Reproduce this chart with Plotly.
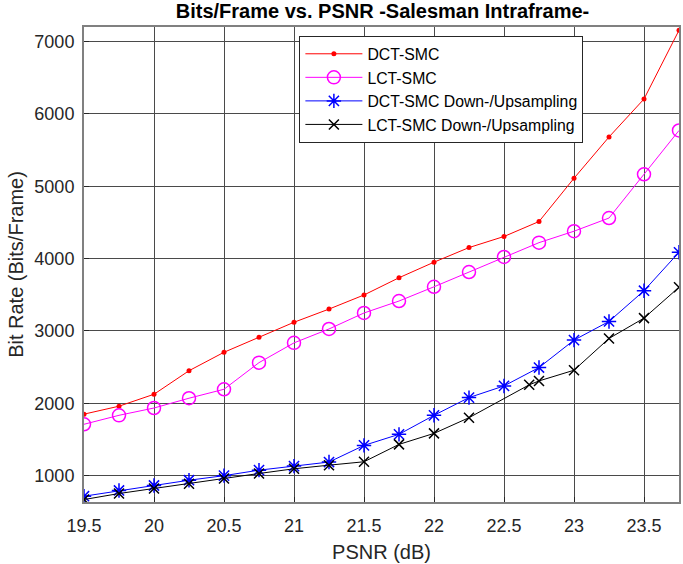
import plotly.graph_objects as go

# PSNR sample points (dB)
psnr = [19.5, 19.75, 20.0, 20.25, 20.5, 20.75, 21.0, 21.25, 21.5,
        21.75, 22.0, 22.25, 22.5, 22.75, 23.0, 23.25, 23.5, 23.75]
psnr_lct_ds = [19.5, 19.75, 20.0, 20.25, 20.5, 20.75, 21.0, 21.25, 21.5,
               21.75, 22.0, 22.25, 22.68, 22.75, 23.0, 23.25, 23.5, 23.75]

# Bit rate (bits/frame) per codec
dct_smc = [1850, 1960, 2125, 2450, 2705, 2912, 3120, 3302, 3497,
           3735, 3950, 4152, 4305, 4512, 5110, 5680, 6205, 7155]
lct_smc = [1710, 1834, 1935, 2070, 2194, 2562, 2835, 3027, 3248,
           3413, 3610, 3814, 4022, 4220, 4378, 4560, 5165, 5770]
dct_smc_ds = [716, 795, 864, 937, 1000, 1076, 1132, 1188, 1418,
              1571, 1834, 2079, 2240, 2494, 2873, 3131, 3556, 4087]
lct_smc_ds = [670, 753, 823, 887, 961, 1030, 1095, 1145, 1192,
              1432, 1584, 1801, 2255, 2309, 2457, 2896, 3177, 3603]

x_ticks = [19.5, 20, 20.5, 21, 21.5, 22, 22.5, 23, 23.5]
y_ticks = [1000, 2000, 3000, 4000, 5000, 6000, 7000]

FONT = "Liberation Sans, Arial, sans-serif"
MARGIN_L, MARGIN_R = 84, 2
WIDTH = 683

fig = go.Figure()
fig.add_trace(go.Scatter(
    x=psnr, y=dct_smc, name="DCT-SMC", mode="lines+markers",
    line=dict(color="#ff0000", width=1),
    marker=dict(symbol="circle", size=5, color="#ff0000")))
fig.add_trace(go.Scatter(
    x=psnr, y=lct_smc, name="LCT-SMC", mode="lines+markers",
    line=dict(color="#ff00ff", width=1),
    marker=dict(symbol="circle-open", size=13, color="#ff00ff",
                line=dict(width=1.5, color="#ff00ff"))))
fig.add_trace(go.Scatter(
    x=psnr, y=dct_smc_ds, name="DCT-SMC Down-/Upsampling", mode="lines+markers",
    line=dict(color="#0000ff", width=1),
    marker=dict(symbol="asterisk-open", size=12, color="#0000ff",
                line=dict(width=1.5, color="#0000ff"))))
fig.add_trace(go.Scatter(
    x=psnr_lct_ds, y=lct_smc_ds, name="LCT-SMC Down-/Upsampling", mode="lines+markers",
    line=dict(color="#000000", width=1),
    marker=dict(symbol="x-thin-open", size=10, color="#000000",
                line=dict(width=1.5, color="#000000"))))

axis_common = dict(
    showgrid=True, gridcolor="#4a4a4a", gridwidth=1,
    showline=True, linecolor="#808080", linewidth=2, mirror=True,
    ticks="inside", ticklen=5, tickcolor="#262626",
    tickfont=dict(family=FONT, size=18, color="#262626"),
    zeroline=False,
)

# title centred over the plotting area
title_x = (MARGIN_L + (WIDTH - MARGIN_L - MARGIN_R) / 2) / WIDTH

fig.update_layout(
    width=WIDTH, height=564,
    margin=dict(l=MARGIN_L, r=MARGIN_R, t=27, b=62),
    paper_bgcolor="white", plot_bgcolor="white",
    title=dict(text="<b>Bits/Frame vs. PSNR -Salesman Intraframe-</b>",
               x=title_x, xanchor="center", y=0.981, yanchor="middle",
               font=dict(family=FONT, size=20, color="#000000")),
    xaxis=dict(axis_common, range=[19.5, 23.75], tickvals=x_ticks,
               ticktext=[f"{v:g}" for v in x_ticks], ticklabelstandoff=6,
               title=dict(text="PSNR (dB)", standoff=10,
                          font=dict(family=FONT, size=20, color="#262626"))),
    yaxis=dict(axis_common, range=[636, 7200], tickvals=y_ticks,
               ticktext=[str(v) for v in y_ticks], ticklabelstandoff=4,
               title=dict(text="Bit Rate (Bits/Frame)", standoff=5,
                          font=dict(family=FONT, size=20, color="#262626"))),
    legend=dict(x=0.362, y=0.981, xanchor="left", yanchor="top",
                bgcolor="white", bordercolor="#262626", borderwidth=1,
                font=dict(family=FONT, size=15.8, color="#000000"),
                itemwidth=57, tracegroupgap=0),
    showlegend=True,
)

fig.write_html("out.html")
